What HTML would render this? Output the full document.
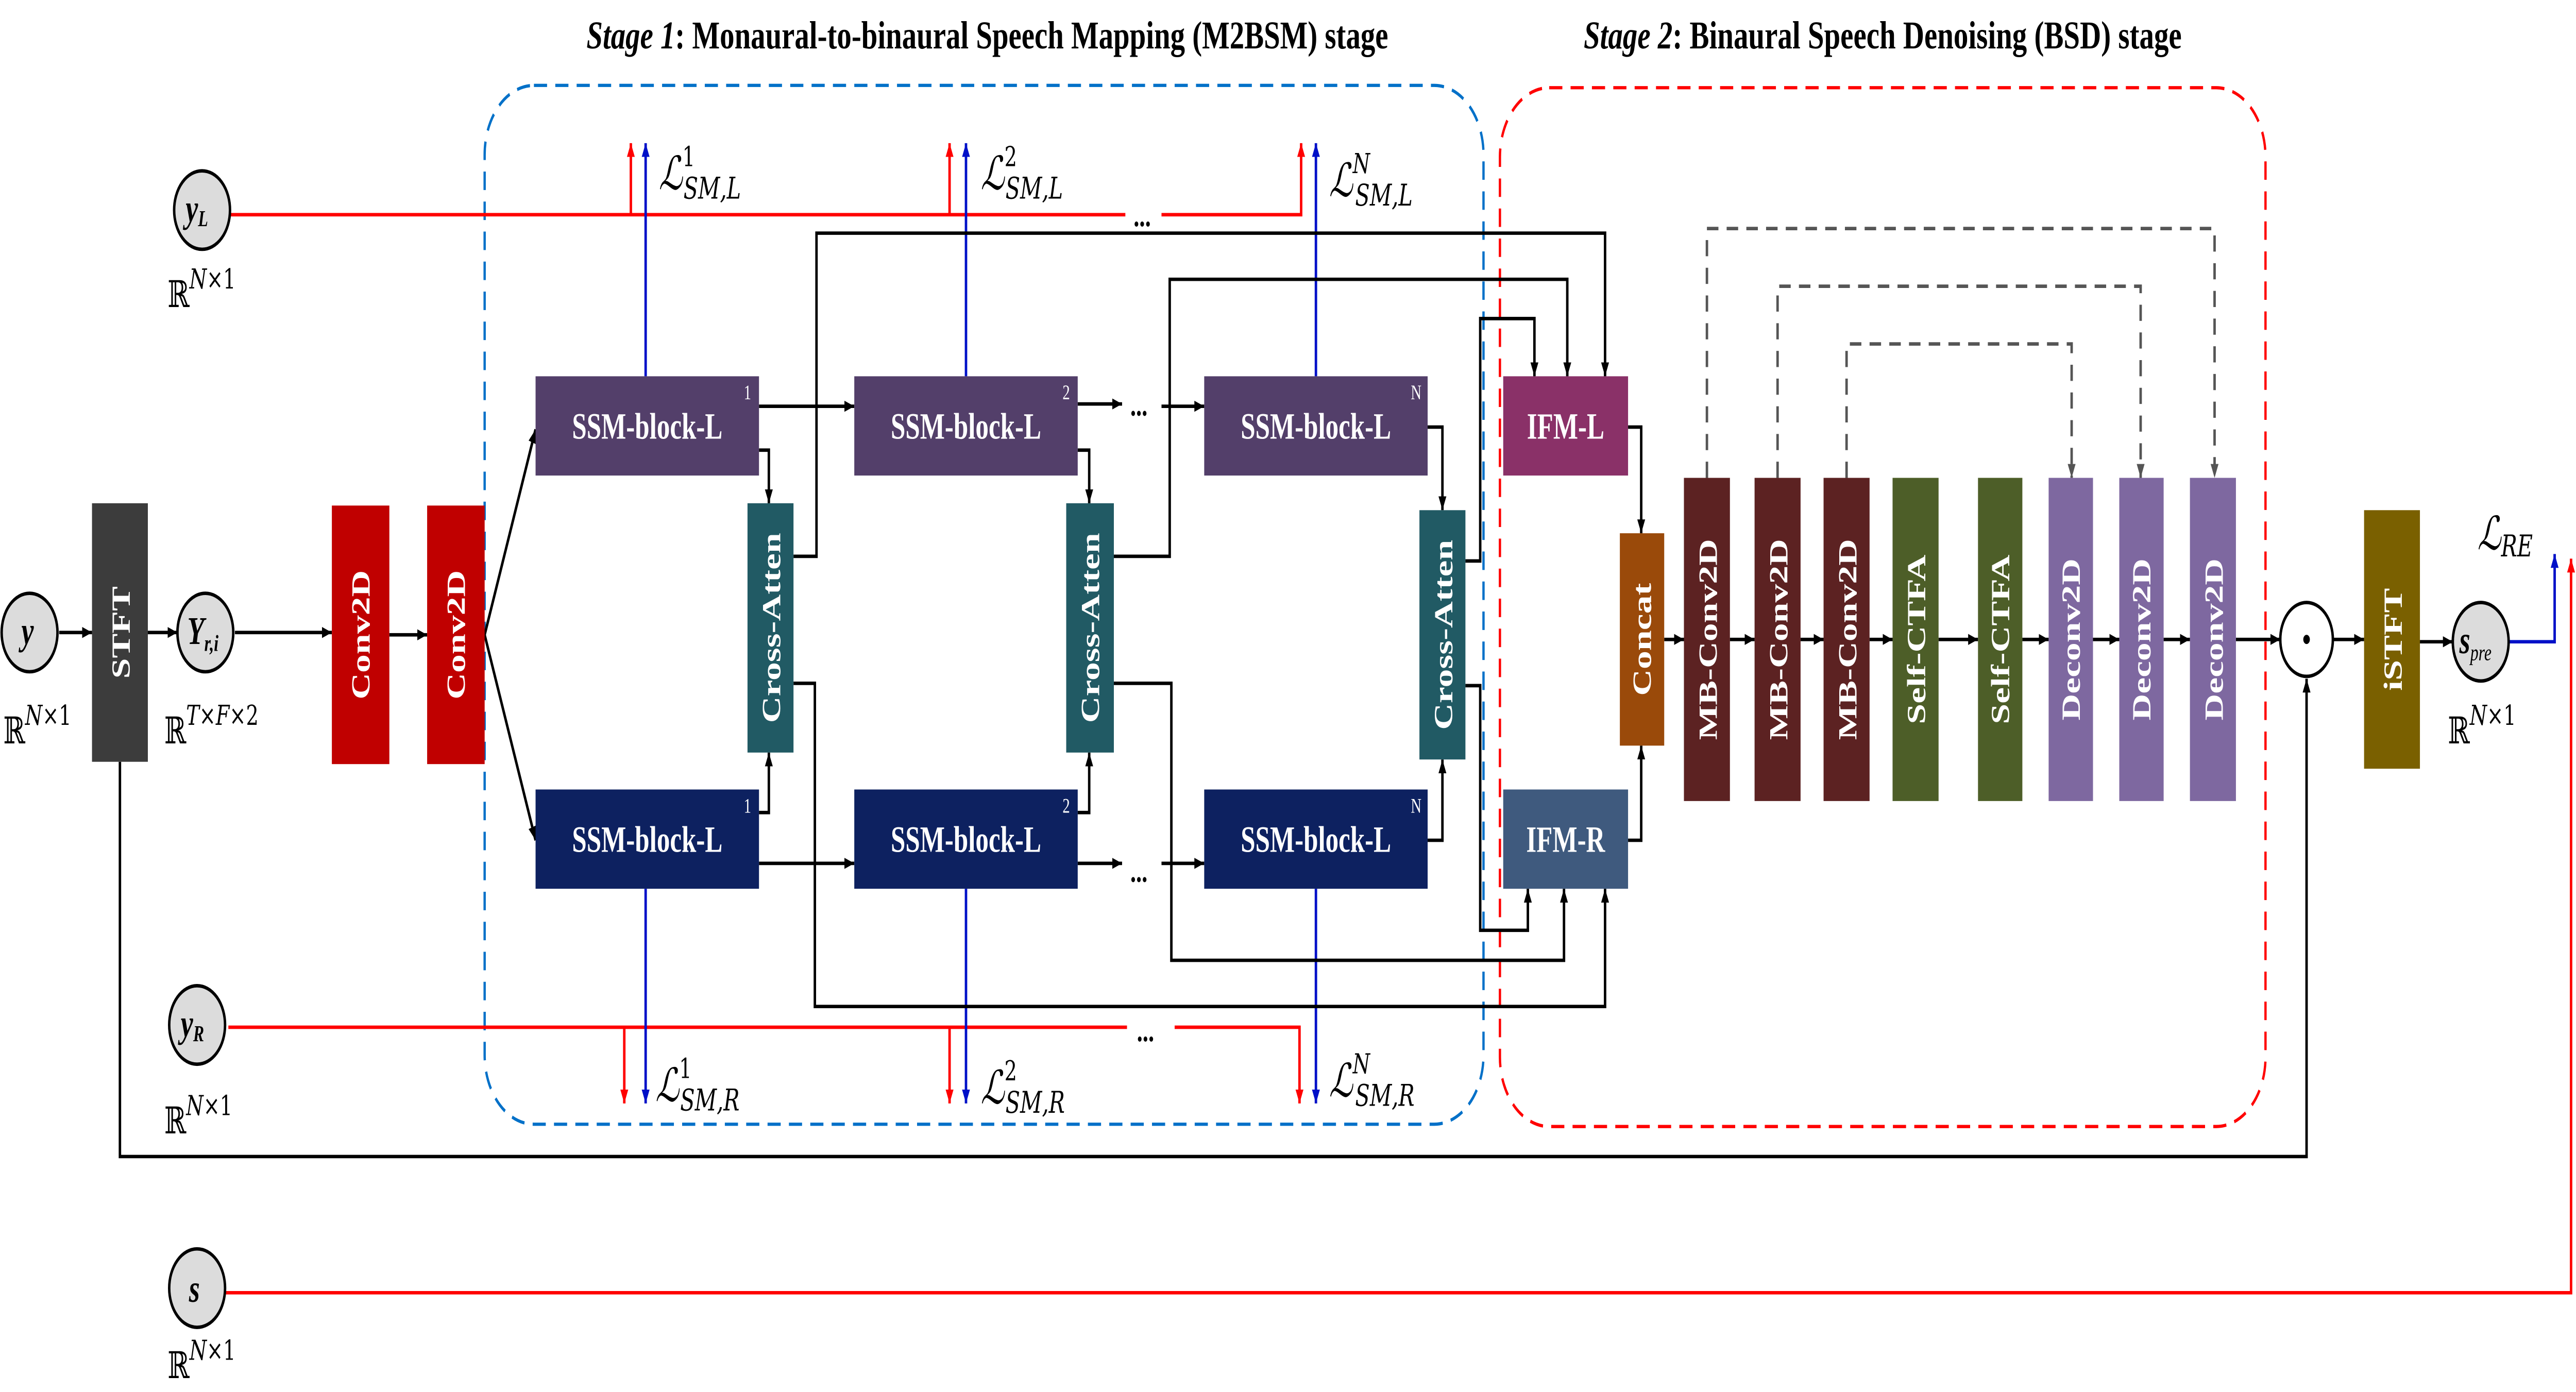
<!DOCTYPE html>
<html><head><meta charset="utf-8"><style>html,body{margin:0;padding:0;background:#fff;width:100%;height:100%;overflow:hidden}svg{display:block;width:100vw;height:100vh}</style></head>
<body>
<svg xmlns="http://www.w3.org/2000/svg" viewBox="0 0 1568 603" preserveAspectRatio="none" font-family="'Liberation Serif', serif">
<defs>
<marker id="ak" viewBox="0 0 10 10" refX="10" refY="5" markerWidth="6" markerHeight="6" markerUnits="userSpaceOnUse" orient="auto"><path d="M0,1 L10,5 L0,9 z" fill="#000"/></marker>
<marker id="ar" viewBox="0 0 10 10" refX="10" refY="5" markerWidth="6" markerHeight="6" markerUnits="userSpaceOnUse" orient="auto"><path d="M0,1 L10,5 L0,9 z" fill="#f00"/></marker>
<marker id="ab" viewBox="0 0 10 10" refX="10" refY="5" markerWidth="6" markerHeight="6" markerUnits="userSpaceOnUse" orient="auto"><path d="M0,1 L10,5 L0,9 z" fill="#0010c8"/></marker>
<marker id="ag" viewBox="0 0 10 10" refX="10" refY="5" markerWidth="6" markerHeight="6" markerUnits="userSpaceOnUse" orient="auto"><path d="M0,1 L10,5 L0,9 z" fill="#555"/></marker>
</defs>

<text x="357" y="21" font-size="17" font-weight="bold" textLength="488" lengthAdjust="spacingAndGlyphs"><tspan font-style="italic">Stage 1</tspan>: Monaural-to-binaural Speech Mapping (M2BSM) stage</text>
<text x="964" y="21" font-size="17" font-weight="bold" textLength="364" lengthAdjust="spacingAndGlyphs"><tspan font-style="italic">Stage 2</tspan>: Binaural Speech Denoising (BSD) stage</text>

<rect x="295" y="37" width="608" height="450" rx="30" fill="none" stroke="#0070c8" stroke-width="1.4" stroke-dasharray="8,5"/>
<rect x="913" y="38" width="466" height="450" rx="30" fill="none" stroke="#f00" stroke-width="1.4" stroke-dasharray="8,5"/>

<g stroke="#f00" stroke-width="1.5" fill="none">
<path d="M140,93 H685"/><path d="M707,93 H792 V62" marker-end="url(#ar)"/>
<path d="M384,93 V62" marker-end="url(#ar)"/><path d="M578,93 V62" marker-end="url(#ar)"/>
<path d="M139,445 H686"/><path d="M715,445 H791 V478" marker-end="url(#ar)"/>
<path d="M380,445 V478" marker-end="url(#ar)"/><path d="M578,445 V478" marker-end="url(#ar)"/>
<path d="M137,560 H1565 V242" marker-end="url(#ar)"/>
</g>
<g stroke="#0010c8" stroke-width="1.5" fill="none">
<path d="M393,163 V62" marker-end="url(#ab)"/><path d="M588,163 V62" marker-end="url(#ab)"/><path d="M801,163 V62" marker-end="url(#ab)"/>
<path d="M393,385 V478" marker-end="url(#ab)"/><path d="M588,385 V478" marker-end="url(#ab)"/><path d="M801,385 V478" marker-end="url(#ab)"/>
<path d="M1527,278 H1555 V240" marker-end="url(#ab)"/>
</g>

<g stroke="#000" stroke-width="1.5" fill="none">
<path d="M36,274 H56" marker-end="url(#ak)"/>
<path d="M90,274 H108" marker-end="url(#ak)"/>
<path d="M143,274 H202" marker-end="url(#ak)"/>
<path d="M237,275 H260" marker-end="url(#ak)"/>
<path d="M295,275 L326,186" marker-end="url(#ak)"/>
<path d="M295,275 L326,364" marker-end="url(#ak)"/>
<path d="M462,176 H520" marker-end="url(#ak)"/>
<path d="M462,195 H468 V218" marker-end="url(#ak)"/>
<path d="M483,241 H497 V101 H977 V163" marker-end="url(#ak)"/>
<path d="M483,296 H496 V436 H977 V385" marker-end="url(#ak)"/>
<path d="M462,374 H520" marker-end="url(#ak)"/>
<path d="M462,352 H468 V326" marker-end="url(#ak)"/>
<path d="M656,175 H683" marker-end="url(#ak)"/><path d="M707,176 H733" marker-end="url(#ak)"/>
<path d="M656,374 H683" marker-end="url(#ak)"/><path d="M707,374 H733" marker-end="url(#ak)"/>
<path d="M656,195 H663 V218" marker-end="url(#ak)"/>
<path d="M656,352 H663 V326" marker-end="url(#ak)"/>
<path d="M678,241 H712 V121 H954 V163" marker-end="url(#ak)"/>
<path d="M678,296 H713 V416 H952 V385" marker-end="url(#ak)"/>
<path d="M869,185 H878 V221" marker-end="url(#ak)"/>
<path d="M869,364 H878 V329" marker-end="url(#ak)"/>
<path d="M892,243 H901 V138 H934 V163" marker-end="url(#ak)"/>
<path d="M892,297 H901 V403 H930 V385" marker-end="url(#ak)"/>
<path d="M991,185 H999 V231" marker-end="url(#ak)"/>
<path d="M991,364 H999 V323" marker-end="url(#ak)"/>
<path d="M1013,277 H1025" marker-end="url(#ak)"/>
<path d="M1053,277 H1068" marker-end="url(#ak)"/>
<path d="M1096,277 H1110" marker-end="url(#ak)"/>
<path d="M1138,277 H1152" marker-end="url(#ak)"/>
<path d="M1180,277 H1204" marker-end="url(#ak)"/>
<path d="M1231,277 H1247" marker-end="url(#ak)"/>
<path d="M1274,277 H1290" marker-end="url(#ak)"/>
<path d="M1317,277 H1333" marker-end="url(#ak)"/>
<path d="M1361,277 H1388" marker-end="url(#ak)"/>
<path d="M1420,277 H1439" marker-end="url(#ak)"/>
<path d="M1473,278 H1493" marker-end="url(#ak)"/>
<path d="M73,330 V501 H1404 V294" marker-end="url(#ak)"/>
</g>

<g stroke="#555" stroke-width="1.5" fill="none" stroke-dasharray="7,5">
<path d="M1039,207 V99 H1348 V207" marker-end="url(#ag)"/>
<path d="M1082,207 V124 H1303 V207" marker-end="url(#ag)"/>
<path d="M1124,207 V149 H1261 V207" marker-end="url(#ag)"/>
</g>

<g font-size="14" font-weight="bold">
<text x="690" y="98">...</text><text x="692" y="451">...</text>
<text x="688" y="180">...</text><text x="688" y="382">...</text>
</g>

<g fill="#dcdcdc" stroke="#000" stroke-width="1.5">
<ellipse cx="123" cy="91" rx="17" ry="17"/>
<ellipse cx="18" cy="274" rx="17" ry="17"/>
<ellipse cx="125" cy="274" rx="17" ry="17"/>
<ellipse cx="120" cy="444" rx="17" ry="17"/>
<ellipse cx="120" cy="558" rx="17" ry="17"/>
<ellipse cx="1510" cy="278" rx="17" ry="17"/>
</g>
<ellipse cx="1404" cy="277" rx="16" ry="16" fill="#fff" stroke="#000" stroke-width="1.5"/>
<circle cx="1404" cy="277" r="2" fill="#000"/>
<g font-weight="bold" font-style="italic" font-size="17">
<text x="113" y="96">y<tspan font-size="10" dy="2">L</tspan></text>
<text x="13" y="279">y</text>
<text x="114" y="279">Y<tspan font-size="10" dy="3">r,i</tspan></text>
<text x="110" y="449">y<tspan font-size="10" dy="2">R</tspan></text>
<text x="115" y="564">s</text>
<text x="1497" y="283">s<tspan font-size="10" font-weight="normal" dy="3">pre</tspan></text>
</g>

<g font-size="16" font-family="'DejaVu Serif', serif">
<text x="102" y="133">ℝ<tspan font-size="12" font-style="italic" dy="-8">N</tspan><tspan font-size="12">×1</tspan></text>
<text x="2" y="322">ℝ<tspan font-size="12" font-style="italic" dy="-8">N</tspan><tspan font-size="12">×1</tspan></text>
<text x="100" y="322">ℝ<tspan font-size="12" font-style="italic" dy="-8">T</tspan><tspan font-size="12">×</tspan><tspan font-size="12" font-style="italic">F</tspan><tspan font-size="12">×2</tspan></text>
<text x="100" y="491">ℝ<tspan font-size="12" font-style="italic" dy="-8">N</tspan><tspan font-size="12">×1</tspan></text>
<text x="102" y="597">ℝ<tspan font-size="12" font-style="italic" dy="-8">N</tspan><tspan font-size="12">×1</tspan></text>
<text x="1490" y="322">ℝ<tspan font-size="12" font-style="italic" dy="-8">N</tspan><tspan font-size="12">×1</tspan></text>
</g>

<g font-size="20" font-family="'DejaVu Serif', serif" font-style="italic">
<text x="401" y="82">ℒ<tspan font-size="12" font-style="normal" dy="-10">1</tspan><tspan font-size="13" dx="-7" dy="14">SM,L</tspan></text>
<text x="597" y="82">ℒ<tspan font-size="12" font-style="normal" dy="-10">2</tspan><tspan font-size="13" dx="-7" dy="14">SM,L</tspan></text>
<text x="809" y="85">ℒ<tspan font-size="12" dy="-10">N</tspan><tspan font-size="13" dx="-9" dy="14">SM,L</tspan></text>
<text x="399" y="477">ℒ<tspan font-size="12" font-style="normal" dy="-10">1</tspan><tspan font-size="13" dx="-7" dy="14">SM,R</tspan></text>
<text x="597" y="478">ℒ<tspan font-size="12" font-style="normal" dy="-10">2</tspan><tspan font-size="13" dx="-7" dy="14">SM,R</tspan></text>
<text x="809" y="475">ℒ<tspan font-size="12" dy="-10">N</tspan><tspan font-size="13" dx="-9" dy="14">SM,R</tspan></text>
<text x="1508" y="238">ℒ<tspan font-size="13" dy="3">RE</tspan></text>
</g>

<rect x="56" y="218" width="34" height="112" fill="#3c3c3c"/>
<rect x="202" y="219" width="35" height="112" fill="#c00000"/>
<rect x="260" y="219" width="35" height="112" fill="#c00000"/>
<rect x="326" y="163" width="136" height="43" fill="#533f6a"/>
<rect x="520" y="163" width="136" height="43" fill="#533f6a"/>
<rect x="733" y="163" width="136" height="43" fill="#533f6a"/>
<rect x="326" y="342" width="136" height="43" fill="#0d2160"/>
<rect x="520" y="342" width="136" height="43" fill="#0d2160"/>
<rect x="733" y="342" width="136" height="43" fill="#0d2160"/>
<rect x="455" y="218" width="28" height="108" fill="#215a64"/>
<rect x="649" y="218" width="29" height="108" fill="#215a64"/>
<rect x="864" y="221" width="28" height="108" fill="#215a64"/>
<rect x="915" y="163" width="76" height="43" fill="#8a3168"/>
<rect x="915" y="342" width="76" height="43" fill="#3f5a7e"/>
<rect x="986" y="231" width="27" height="92" fill="#9a4a0a"/>
<rect x="1025" y="207" width="28" height="140" fill="#5c2222"/>
<rect x="1068" y="207" width="28" height="140" fill="#5c2222"/>
<rect x="1110" y="207" width="28" height="140" fill="#5c2222"/>
<rect x="1152" y="207" width="28" height="140" fill="#4d5e28"/>
<rect x="1204" y="207" width="27" height="140" fill="#4d5e28"/>
<rect x="1247" y="207" width="27" height="140" fill="#7e68a0"/>
<rect x="1290" y="207" width="27" height="140" fill="#7e68a0"/>
<rect x="1333" y="207" width="28" height="140" fill="#7e68a0"/>
<rect x="1439" y="221" width="34" height="112" fill="#7a6000"/>

<g fill="#fff" font-weight="bold" font-size="16" text-anchor="middle">
<text x="394" y="190">SSM-block-L</text><text x="588" y="190">SSM-block-L</text><text x="801" y="190">SSM-block-L</text>
<text x="394" y="369">SSM-block-L</text><text x="588" y="369">SSM-block-L</text><text x="801" y="369">SSM-block-L</text>
<text x="953" y="190">IFM-L</text><text x="953" y="369">IFM-R</text>
</g>
<g fill="#fff" font-size="9" text-anchor="middle">
<text x="455" y="173">1</text><text x="649" y="173">2</text><text x="862" y="173">N</text>
<text x="455" y="352">1</text><text x="649" y="352">2</text><text x="862" y="352">N</text>
</g>
<g fill="#fff" font-weight="bold" font-size="16" text-anchor="middle">
<text transform="translate(79,274) rotate(-90)">STFT</text>
<text transform="translate(225,275) rotate(-90)">Conv2D</text>
<text transform="translate(283,275) rotate(-90)">Conv2D</text>
<text transform="translate(475,272) rotate(-90)">Cross-Atten</text>
<text transform="translate(669,272) rotate(-90)">Cross-Atten</text>
<text transform="translate(884,275) rotate(-90)">Cross-Atten</text>
<text transform="translate(1005,277) rotate(-90)">Concat</text>
<text transform="translate(1045,277) rotate(-90)">MB-Conv2D</text>
<text transform="translate(1088,277) rotate(-90)">MB-Conv2D</text>
<text transform="translate(1130,277) rotate(-90)">MB-Conv2D</text>
<text transform="translate(1172,277) rotate(-90)">Self-CTFA</text>
<text transform="translate(1223,277) rotate(-90)">Self-CTFA</text>
<text transform="translate(1266,277) rotate(-90)">Deconv2D</text>
<text transform="translate(1309,277) rotate(-90)">Deconv2D</text>
<text transform="translate(1353,277) rotate(-90)">Deconv2D</text>
<text transform="translate(1462,277) rotate(-90)">iSTFT</text>
</g>
</svg>
</body></html>
